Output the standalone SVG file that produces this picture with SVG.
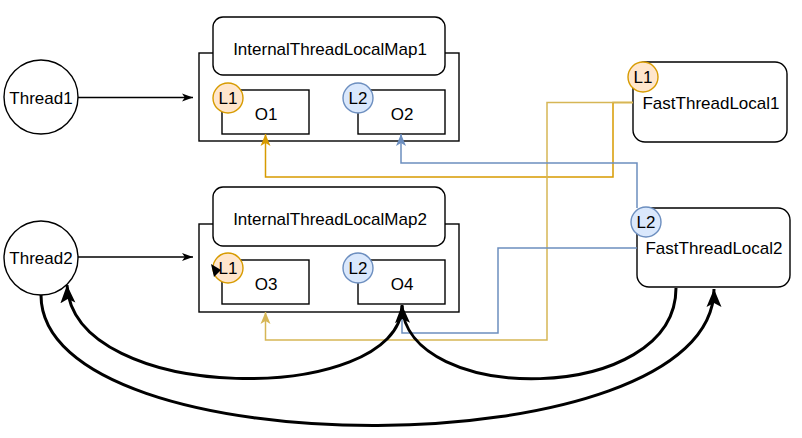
<svg xmlns="http://www.w3.org/2000/svg" width="802" height="438" viewBox="0 0 802 438">
<style>
text{font-family:"Liberation Sans",Arial,sans-serif;font-size:17px;fill:#000;text-anchor:middle}
.box{fill:#fff;stroke:#000;stroke-width:1.4}
.lo{fill:#ffe6cc;stroke:#d79b00;stroke-width:1.4}
.lb{fill:#dae8fc;stroke:#6c8ebf;stroke-width:1.4}
.thin{fill:none;stroke:#000;stroke-width:1.3}
.thick{fill:none;stroke:#000;stroke-width:3}
</style>
<defs>
<marker id="aBlack" markerUnits="userSpaceOnUse" markerWidth="12" markerHeight="9" refX="11" refY="4.5" orient="auto"><path d="M0,0.5 L11,4.5 L0,8.5 L2.8,4.5z" fill="#000"/></marker>
<marker id="aOrange" markerUnits="userSpaceOnUse" markerWidth="13" markerHeight="12" refX="12" refY="6" orient="auto"><path d="M0,1 L12,6 L0,11 L3,6z" fill="#d79b00"/></marker>
<marker id="aYellow" markerUnits="userSpaceOnUse" markerWidth="13" markerHeight="12" refX="12" refY="6" orient="auto"><path d="M0,1 L12,6 L0,11 L3,6z" fill="#d6b656"/></marker>
<marker id="aBlue" markerUnits="userSpaceOnUse" markerWidth="13" markerHeight="12" refX="12" refY="6" orient="auto"><path d="M0,1 L12,6 L0,11 L3,6z" fill="#6c8ebf"/></marker>
<marker id="aThick" markerUnits="userSpaceOnUse" markerWidth="19" markerHeight="17" refX="18" refY="8" orient="auto"><path d="M0,0.5 L18,8 L0,15.5 L4,8z" fill="#000"/></marker>
</defs>

<g id="map1">
<rect class="box" x="199" y="53" width="260" height="88"/>
<rect class="box" x="213" y="17" width="232" height="58" rx="10"/>
<text x="330" y="55">InternalThreadLocalMap1</text>
</g>
<g id="O1"><rect class="box" x="222" y="90" width="87" height="44"/><text x="266" y="120">O1</text></g>
<g id="O2"><rect class="box" x="358" y="90" width="87" height="44"/><text x="402" y="120">O2</text></g>
<g id="map1L1"><circle class="lo" cx="228" cy="98" r="15"/><text x="228" y="104">L1</text></g>
<g id="map1L2"><circle class="lb" cx="358" cy="98" r="15"/><text x="358" y="104">L2</text></g>

<g id="map2">
<rect class="box" x="199" y="224" width="260" height="88"/>
<rect class="box" x="213" y="187" width="232" height="59" rx="10"/>
<text x="330" y="225">InternalThreadLocalMap2</text>
</g>
<g id="O3"><rect class="box" x="222" y="260" width="87" height="44"/><text x="266" y="290">O3</text></g>
<g id="O4"><rect class="box" x="358" y="260" width="87" height="44"/><text x="402" y="290">O4</text></g>
<g id="map2L1"><circle class="lo" cx="228" cy="268" r="15"/><text x="228" y="274">L1</text></g>
<g id="map2L2"><circle class="lb" cx="358" cy="268" r="15"/><text x="358" y="274">L2</text></g>

<g id="thread1"><circle class="box" cx="41" cy="97" r="37"/><text x="41" y="104">Thread1</text></g>
<g id="thread2"><circle class="box" cx="41" cy="258" r="37"/><text x="41" y="264">Thread2</text></g>

<g id="ftl1"><rect class="box" x="633" y="62" width="154" height="80" rx="12"/><text x="711" y="109">FastThreadLocal1</text></g>
<g id="ftl1L1"><circle class="lo" cx="643" cy="77" r="15"/><text x="643" y="83">L1</text></g>
<g id="ftl2"><rect class="box" x="637" y="208" width="153" height="79" rx="12"/><text x="714" y="254">FastThreadLocal2</text></g>
<g id="ftl2L2"><circle class="lb" cx="646" cy="222" r="15"/><text x="646" y="228">L2</text></g>

<g id="connectors">
<path class="thin" d="M78,97.5 H193" marker-end="url(#aBlack)"/>
<path class="thin" d="M78,257 H193" marker-end="url(#aBlack)"/>
<path d="M633,102.5 H613 V177 H265.5 V134" fill="none" stroke="#d79b00" stroke-width="1.5" marker-end="url(#aOrange)"/>
<path d="M633,102.5 H547 V340 H265.5 V312" fill="none" stroke="#d6b656" stroke-width="1.5" marker-end="url(#aYellow)"/>
<path d="M637,208 V163 H401 V134" fill="none" stroke="#6c8ebf" stroke-width="1.5" marker-end="url(#aBlue)"/>
<path d="M637,248 H498 V333 H402 V318" fill="none" stroke="#6c8ebf" stroke-width="1.5"/>
<path class="thick" d="M402,306 C400,406 73,406 67,285" marker-end="url(#aThick)"/>
<path class="thick" d="M676,288 C676,406 405,406 402,305" marker-end="url(#aThick)"/>
<path class="thick" d="M41,295 C41,470 714,470 714,289" marker-end="url(#aThick)"/>
<path d="M211,264 L221,270 L214,277z" fill="#000"/>
</g>
</svg>
